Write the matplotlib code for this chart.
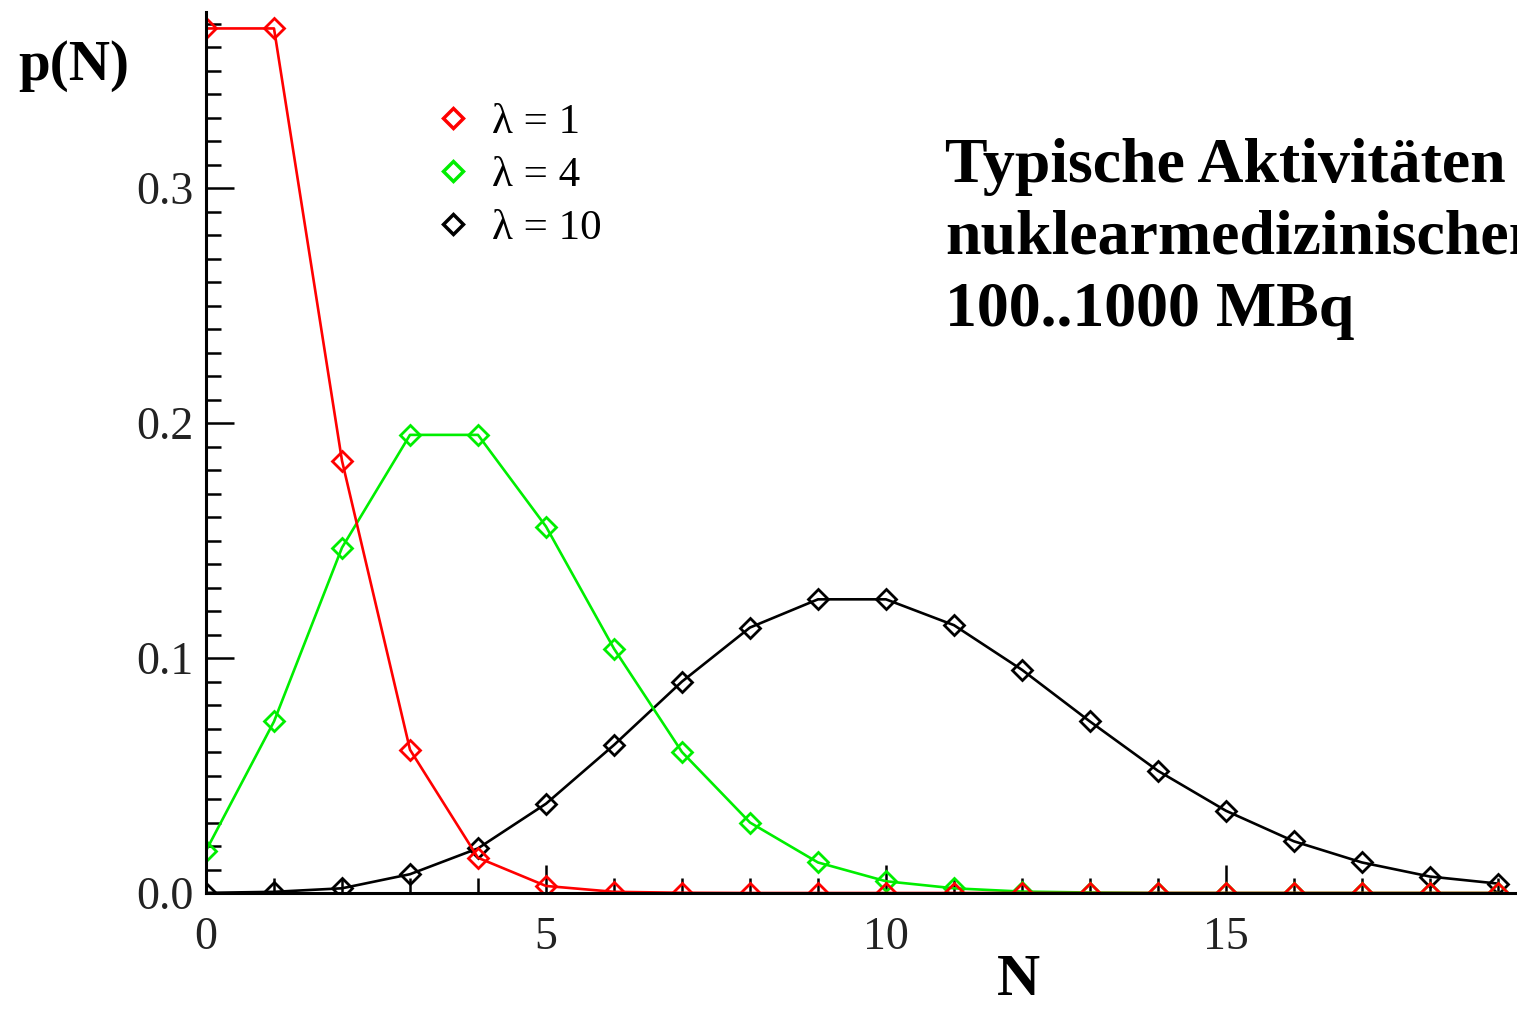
import numpy as np
import matplotlib
matplotlib.use('Agg')
import matplotlib.pyplot as plt
from matplotlib.ticker import MultipleLocator, FormatStrFormatter
from matplotlib.lines import Line2D

plt.rcParams['font.family'] = ['Liberation Serif', 'DejaVu Serif']

# Werte
n_werte = [0, 1, 2, 3, 4, 5, 6, 7, 8, 9, 10, 11, 12, 13, 14, 15, 16, 17, 18, 19]
p_lambda1 = [0.368, 0.368, 0.184, 0.061, 0.015, 0.003, 0.0005, 0.0001, 0.0, 0.0,
             0.0, 0.0, 0.0, 0.0, 0.0, 0.0, 0.0, 0.0, 0.0, 0.0]
p_lambda4 = [0.018, 0.073, 0.147, 0.195, 0.195, 0.156, 0.104, 0.060, 0.030, 0.013,
             0.005, 0.002, 0.0006, 0.0002, 0.0, 0.0, 0.0, 0.0, 0.0, 0.0]
p_lambda10 = [0.00005, 0.0005, 0.002, 0.008, 0.019, 0.038, 0.063, 0.090, 0.113, 0.125,
              0.125, 0.114, 0.095, 0.073, 0.052, 0.035, 0.022, 0.013, 0.007, 0.004]
legende = ['λ = 1', 'λ = 4', 'λ = 10']
farben = ['#ff0000', '#00ee00', '#000000']
textzeilen = ['Typische Aktivitäten', 'nuklearmedizinischen', '100..1000 MBq']

W, H = 1517, 1010
fig = plt.figure(figsize=(W / 100, H / 100), dpi=100)
ax = fig.add_axes([206 / W, 1 - 893 / H, 1 - 206 / W, (893 - 12) / H])

# schwarz zuerst, rot zuletzt (rot liegt oben)
for werte, farbe in zip([p_lambda10, p_lambda4, p_lambda1], farben[::-1]):
    ax.plot(n_werte, werte, color=farbe, lw=1.9, marker='D', ms=10,
            mfc='none', mec=farbe, mew=2)

ax.set_xlim(0, 19.28)
ax.set_ylim(0, 0.375)
ax.xaxis.set_major_locator(MultipleLocator(5))
ax.xaxis.set_minor_locator(MultipleLocator(1))
ax.yaxis.set_major_locator(MultipleLocator(0.1))
ax.yaxis.set_minor_locator(MultipleLocator(0.01))
ax.yaxis.set_major_formatter(FormatStrFormatter('%.1f'))

for s in ['top', 'right']:
    ax.spines[s].set_visible(False)
for s in ['left', 'bottom']:
    ax.spines[s].set_linewidth(2.2)

ax.tick_params(which='both', direction='in', width=1.8, labelsize=33,
               labelcolor='#222222')
ax.tick_params(which='major', length=20)
ax.tick_params(which='minor', length=11)
ax.tick_params(axis='x', pad=17)
ax.tick_params(axis='y', pad=9)

griffe = [Line2D([], [], ls='none', marker='D', ms=10, mfc='none', mec=f, mew=2.5)
          for f in farben]
ax.legend(griffe, legende, loc='upper left', bbox_to_anchor=(419 / W, 1 - 81 / H),
          bbox_transform=fig.transFigure, frameon=False, fontsize=31,
          handlelength=0.6, handletextpad=0.6, labelspacing=0.33, borderpad=0)

fig.text(18 / W, 1 - 80 / H, 'p(N)', fontsize=41, fontweight='bold',
         va='baseline', ha='left')
fig.text(1018 / W, 1 - 995 / H, 'N', fontsize=43, fontweight='bold',
         va='baseline', ha='center')
# Textblock rechts oben, wie im Original am Bildrand abgeschnitten
for zeile, basis in zip(textzeilen, [182, 254, 326]):
    fig.text(945 / W, 1 - basis / H, zeile, fontsize=46, fontweight='bold',
             va='baseline', ha='left')

fig.savefig('out.png', dpi=100)
